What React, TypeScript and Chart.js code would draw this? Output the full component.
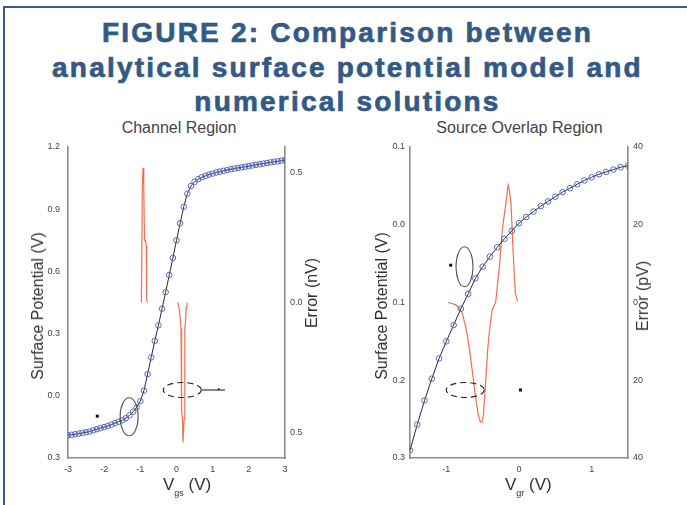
import React, { useEffect, useRef } from "react";
import { Chart, registerables } from "chart.js";

Chart.register(...registerables);

const FONT = '"Liberation Sans", Arial, Helvetica, sans-serif';

// ---------- Channel Region (left panel) ----------
const CH_VGS = [
  -3.0, -2.9, -2.8, -2.7, -2.6, -2.5, -2.4, -2.3, -2.2, -2.1,
  -2.0, -1.9, -1.8, -1.7, -1.6, -1.5, -1.4, -1.3, -1.2, -1.1,
  -1.0, -0.9, -0.8, -0.7, -0.6, -0.5, -0.4, -0.3, -0.2, -0.1,
  0.0, 0.1, 0.2, 0.3, 0.4, 0.5, 0.6, 0.7, 0.8, 0.9,
  1.0, 1.1, 1.2, 1.3, 1.4, 1.5, 1.6, 1.7, 1.8, 1.9,
  2.0, 2.1, 2.2, 2.3, 2.4, 2.5, 2.6, 2.7, 2.8, 2.9, 3.0,
];
const CH_PSI = [
  -0.190, -0.188, -0.185, -0.182, -0.179, -0.176, -0.172, -0.166, -0.161, -0.156,
  -0.151, -0.146, -0.139, -0.132, -0.125, -0.118, -0.108, -0.094, -0.077, -0.056,
  -0.026, 0.025, 0.105, 0.185, 0.265, 0.340, 0.420, 0.500, 0.583, 0.665,
  0.750, 0.832, 0.912, 0.975, 1.012, 1.032, 1.045, 1.054, 1.061, 1.067,
  1.072, 1.077, 1.081, 1.085, 1.089, 1.093, 1.096, 1.099, 1.102, 1.105,
  1.108, 1.111, 1.114, 1.117, 1.120, 1.123, 1.126, 1.129, 1.131, 1.134, 1.137,
];
const CH_ERR_A_VGS = [-0.97, -0.955, -0.945, -0.925, -0.905, -0.885, -0.86, -0.835, -0.825, -0.81];
const CH_ERR_A_NV = [0.0, 0.0, 0.45, 0.52, 0.45, 0.24, 0.24, 0.22, 0.02, 0.0];
const CH_ERR_B_VGS = [0.03, 0.07, 0.11, 0.125, 0.14, 0.165, 0.18, 0.195, 0.21, 0.225, 0.235, 0.25, 0.27, 0.29];
const CH_ERR_B_NV = [0.0, -0.02, -0.07, -0.10, -0.42, -0.45, -0.54, -0.54, -0.45, -0.40, -0.10, -0.07, -0.02, 0.0];

const CH_X_TICKS = [-3, -2, -1, 0, 1, 2, 3];
const CH_X_LABELS = ["-3", "-2", "-1", "0", "1", "2", "3"];
const CH_Y_TICKS = [-0.3, 0, 0.3, 0.6, 0.9, 1.2];
const CH_Y_LABELS = ["0.3", "0.0", "0.3", "0.6", "0.9", "1.2"];
const CH_Y1_TICKS = [-0.5, 0, 0.5];
const CH_Y1_LABELS = ["0.5", "0.0", "0.5"];

// ---------- Source Overlap Region (right panel) ----------
const SO_VGS = [
  -1.5, -1.4, -1.3, -1.2, -1.1, -1.0, -0.9, -0.8, -0.7, -0.6,
  -0.5, -0.4, -0.3, -0.2, -0.1, 0.0, 0.1, 0.2, 0.3, 0.4,
  0.5, 0.6, 0.7, 0.8, 0.9, 1.0, 1.1, 1.2, 1.3, 1.4, 1.5,
];
const SO_PSI = [
  -0.290, -0.257, -0.226, -0.198, -0.172, -0.150, -0.129, -0.108, -0.089, -0.069,
  -0.054, -0.041, -0.029, -0.018, -0.008, 0.002, 0.010, 0.017, 0.024, 0.030,
  0.036, 0.042, 0.047, 0.052, 0.057, 0.061, 0.065, 0.068, 0.071, 0.074, 0.076,
];
const SO_ERR_VGS = [
  -0.98, -0.93, -0.87, -0.82, -0.78, -0.73, -0.68, -0.64, -0.60, -0.56,
  -0.53, -0.51, -0.49, -0.46, -0.43, -0.41, -0.37, -0.32, -0.27, -0.23,
  -0.20, -0.18, -0.15, -0.13, -0.11, -0.08, -0.05, -0.02,
];
const SO_ERR_PV = [
  0.0, -0.2, -0.6, -1.6, -2.8, -6.5, -12.2, -18.0, -24.0, -29.0,
  -30.8, -30.8, -29.0, -20.8, -12.0, -7.9, -1.9, 0.2, 9.2, 18.6,
  23.0, 25.5, 30.2, 28.5, 25.5, 12.7, 2.4, 0.2,
];

const SO_X_TICKS = [-1, 0, 1];
const SO_X_LABELS = ["-1", "0", "1"];
const SO_Y_TICKS = [-0.3, -0.2, -0.1, 0, 0.1];
const SO_Y_LABELS = ["0.3", "0.2", "0.1", "0.0", "0.1"];
const SO_Y1_TICKS = [-40, -20, 0, 20, 40];
const SO_Y1_LABELS = ["40", "20", "0", "20", "40"];

// annotation anchors (data units on x / left y axis)
const CH_NOTES = {
  ellipses: [
    { x: -1.31, y: -0.101, rx: 9, ry: 19, dash: [] as number[] },
    { x: 0.16, y: 0.028, rx: 19, ry: 7.5, dash: [6, 4] },
  ],
  dots: [{ x: -2.19, y: -0.098 }],
  leaders: [{ x1: 0.685, x2: 1.34, y: 0.028, tick: 1.17 }],
};
const SO_NOTES = {
  ellipses: [
    { x: -0.75, y: -0.054, rx: 8.5, ry: 20, dash: [] as number[] },
    { x: -0.74, y: -0.2125, rx: 19, ry: 7.5, dash: [6, 4] },
  ],
  dots: [
    { x: -0.94, y: -0.052 },
    { x: 0.02, y: -0.2125 },
  ],
  leaders: [] as { x1: number; x2: number; y: number; tick: number }[],
};

function makeNotesPlugin(notes: typeof CH_NOTES) {
  return {
    id: "notes",
    afterDatasetsDraw(chart: any) {
      const { ctx } = chart;
      const xs = chart.scales.x;
      const ys = chart.scales.y;
      const px = (v: number) => xs.getPixelForValue(v);
      const py = (v: number) => ys.getPixelForValue(v);
      ctx.save();
      for (const e of notes.ellipses) {
        ctx.beginPath();
        ctx.setLineDash(e.dash);
        ctx.strokeStyle = e.dash.length ? "#222" : "#555";
        ctx.lineWidth = 1.1;
        ctx.ellipse(px(e.x), py(e.y), e.rx, e.ry, 0, 0, Math.PI * 2);
        ctx.stroke();
      }
      ctx.setLineDash([]);
      for (const l of notes.leaders) {
        ctx.beginPath();
        ctx.strokeStyle = "#111";
        ctx.lineWidth = 1.2;
        ctx.moveTo(px(l.x1), py(l.y));
        ctx.lineTo(px(l.x2), py(l.y));
        ctx.moveTo(px(l.tick), py(l.y) - 2);
        ctx.lineTo(px(l.tick), py(l.y));
        ctx.stroke();
      }
      ctx.fillStyle = "#111";
      for (const d of notes.dots) {
        ctx.fillRect(px(d.x) - 1.5, py(d.y) - 1.5, 3, 3);
      }
      ctx.restore();
    },
  };
}

type PanelSpec = {
  vgs: number[];
  psi: number[];
  errs: { x: number[]; y: number[] }[];
  xMin: number; xMax: number;
  yMin: number; yMax: number;
  y1Min: number; y1Max: number;
  xTicks: number[]; xLabels: string[];
  yTicks: number[]; yLabels: string[];
  y1Ticks: number[]; y1Labels: string[];
  leftW: number; rightW: number; yPad: number;
  notes: typeof CH_NOTES;
};

const AXIS_COLOR = "#8c8c8c";
const TICK_COLOR = "#444";

function buildConfig(p: PanelSpec): any {
  const tickFont = { family: FONT, size: 9 };
  return {
    type: "line",
    data: {
      datasets: [
        {
          data: p.vgs.map((x, i) => ({ x, y: p.psi[i] })),
          yAxisID: "y",
          borderColor: "#2a2a2a",
          borderWidth: 1,
          pointRadius: 2.8,
          pointBorderWidth: 1,
          pointBorderColor: "#5468c0",
          pointBackgroundColor: "rgba(255,255,255,0)",
          tension: 0,
          order: 1,
        },
        ...p.errs.map((e) => ({
          data: e.x.map((x, i) => ({ x, y: e.y[i] })),
          yAxisID: "y1",
          borderColor: "#f0704f",
          borderWidth: 1.2,
          pointRadius: 0,
          tension: 0,
          order: 2,
        })),
      ],
    },
    options: {
      responsive: false,
      animation: false,
      events: [],
      layout: { padding: { top: 27, left: 0, right: 0, bottom: 0 } },
      plugins: { legend: { display: false }, tooltip: { enabled: false }, title: { display: false } },
      scales: {
        x: {
          type: "linear",
          min: p.xMin,
          max: p.xMax,
          afterFit: (s: any) => { s.height = 47; },
          afterBuildTicks: (s: any) => { s.ticks = p.xTicks.map((v) => ({ value: v })); },
          ticks: {
            callback: (_v: any, i: number) => p.xLabels[i],
            font: tickFont, color: TICK_COLOR, padding: 6, maxRotation: 0, autoSkip: false,
          },
          grid: { display: false, drawTicks: false },
          border: { display: true, color: AXIS_COLOR, width: 1.6 },
        },
        y: {
          type: "linear",
          position: "left",
          min: p.yMin,
          max: p.yMax,
          afterFit: (s: any) => { s.width = p.leftW; },
          afterBuildTicks: (s: any) => { s.ticks = p.yTicks.map((v) => ({ value: v })); },
          ticks: {
            callback: (_v: any, i: number) => p.yLabels[i],
            font: tickFont, color: TICK_COLOR, padding: p.yPad, autoSkip: false,
          },
          grid: { display: false, drawTicks: false },
          border: { display: true, color: AXIS_COLOR, width: 1.6 },
        },
        y1: {
          type: "linear",
          position: "right",
          min: p.y1Min,
          max: p.y1Max,
          afterFit: (s: any) => { s.width = p.rightW; },
          afterBuildTicks: (s: any) => { s.ticks = p.y1Ticks.map((v) => ({ value: v })); },
          ticks: {
            callback: (_v: any, i: number) => p.y1Labels[i],
            font: tickFont, color: TICK_COLOR, padding: 5, autoSkip: false,
          },
          grid: { display: false, drawTicks: false },
          border: { display: true, color: AXIS_COLOR, width: 1.6 },
        },
      },
    },
    plugins: [makeNotesPlugin(p.notes)],
  };
}

function Panel({ spec, left, top, width, height }: { spec: PanelSpec; left: number; top: number; width: number; height: number }) {
  const ref = useRef<HTMLCanvasElement>(null);
  useEffect(() => {
    const chart = new Chart(ref.current as HTMLCanvasElement, buildConfig(spec));
    return () => chart.destroy();
  }, []);
  return (
    <canvas
      ref={ref}
      width={width}
      height={height}
      style={{ position: "absolute", left, top, width, height }}
    />
  );
}

const CH_SPEC: PanelSpec = {
  vgs: CH_VGS, psi: CH_PSI,
  errs: [{ x: CH_ERR_A_VGS, y: CH_ERR_A_NV }, { x: CH_ERR_B_VGS, y: CH_ERR_B_NV }],
  xMin: -3, xMax: 3, yMin: -0.3, yMax: 1.2, y1Min: -0.6, y1Max: 0.6,
  xTicks: CH_X_TICKS, xLabels: CH_X_LABELS,
  yTicks: CH_Y_TICKS, yLabels: CH_Y_LABELS,
  y1Ticks: CH_Y1_TICKS, y1Labels: CH_Y1_LABELS,
  leftW: 68, rightW: 58, yPad: 8,
  notes: CH_NOTES,
};

const SO_SPEC: PanelSpec = {
  vgs: SO_VGS, psi: SO_PSI,
  errs: [{ x: SO_ERR_VGS, y: SO_ERR_PV }],
  xMin: -1.5, xMax: 1.5, yMin: -0.3, yMax: 0.1, y1Min: -40, y1Max: 40,
  xTicks: SO_X_TICKS, xLabels: SO_X_LABELS,
  yTicks: SO_Y_TICKS, yLabels: SO_Y_LABELS,
  y1Ticks: SO_Y1_TICKS, y1Labels: SO_Y1_LABELS,
  leftW: 67, rightW: 59, yPad: 5,
  notes: SO_NOTES,
};

const axisTitle = (cx: number, cy: number, text: string) => (
  <div
    style={{
      position: "absolute",
      left: cx,
      top: cy,
      transform: "translate(-50%, -50%) rotate(-90deg)",
      whiteSpace: "nowrap",
      fontSize: 16,
      lineHeight: "16px",
      color: "#333",
    }}
  >
    {text}
  </div>
);

const xTitle = (x: number, cy: number, sub: string) => (
  <div
    style={{
      position: "absolute",
      left: x,
      top: cy - 9,
      whiteSpace: "nowrap",
      fontSize: 17,
      lineHeight: "18px",
      color: "#333",
    }}
  >
    V
    <span style={{ fontSize: 9, position: "relative", top: 6 }}>{sub}</span>
    {" (V)"}
  </div>
);

const panelTitle = (cx: number, cy: number, text: string) => (
  <div
    style={{
      position: "absolute",
      left: cx,
      top: cy,
      transform: "translate(-50%, -50%)",
      whiteSpace: "nowrap",
      fontSize: 16,
      lineHeight: "16px",
      color: "#444",
    }}
  >
    {text}
  </div>
);

export default function App() {
  return (
    <div
      style={{
        position: "absolute",
        left: 0,
        top: 0,
        width: 687,
        height: 505,
        overflow: "hidden",
        background: "#fff",
        fontFamily: FONT,
      }}
    >
      <div
        style={{
          position: "absolute",
          left: 3,
          top: 6,
          width: 700,
          height: 540,
          border: "2px solid #3b5b84",
        }}
      />
      <div
        style={{
          position: "absolute",
          left: 0,
          top: 16,
          width: 695,
          textAlign: "center",
          fontSize: 28,
          lineHeight: "34.5px",
          fontWeight: 700,
          letterSpacing: 2.2,
          color: "#335a85",
          WebkitTextStroke: "0.7px #335a85",
        }}
      >
        <div>FIGURE 2: Comparison between</div>
        <div>analytical surface potential model and</div>
        <div>numerical solutions</div>
      </div>

      {panelTitle(179, 128, "Channel Region")}
      {panelTitle(519.5, 128, "Source Overlap Region")}

      <Panel spec={CH_SPEC} left={0} top={120} width={343} height={385} />
      <Panel spec={SO_SPEC} left={343} top={120} width={344} height={385} />

      {axisTitle(38, 306, "Surface Potential (V)")}
      {axisTitle(312, 293, "Error (nV)")}
      {axisTitle(382, 306, "Surface Potential (V)")}
      {axisTitle(643, 296, "Error (pV)")}

      {xTitle(163, 485, "gs")}
      {xTitle(505, 485, "gr")}
    </div>
  );
}
